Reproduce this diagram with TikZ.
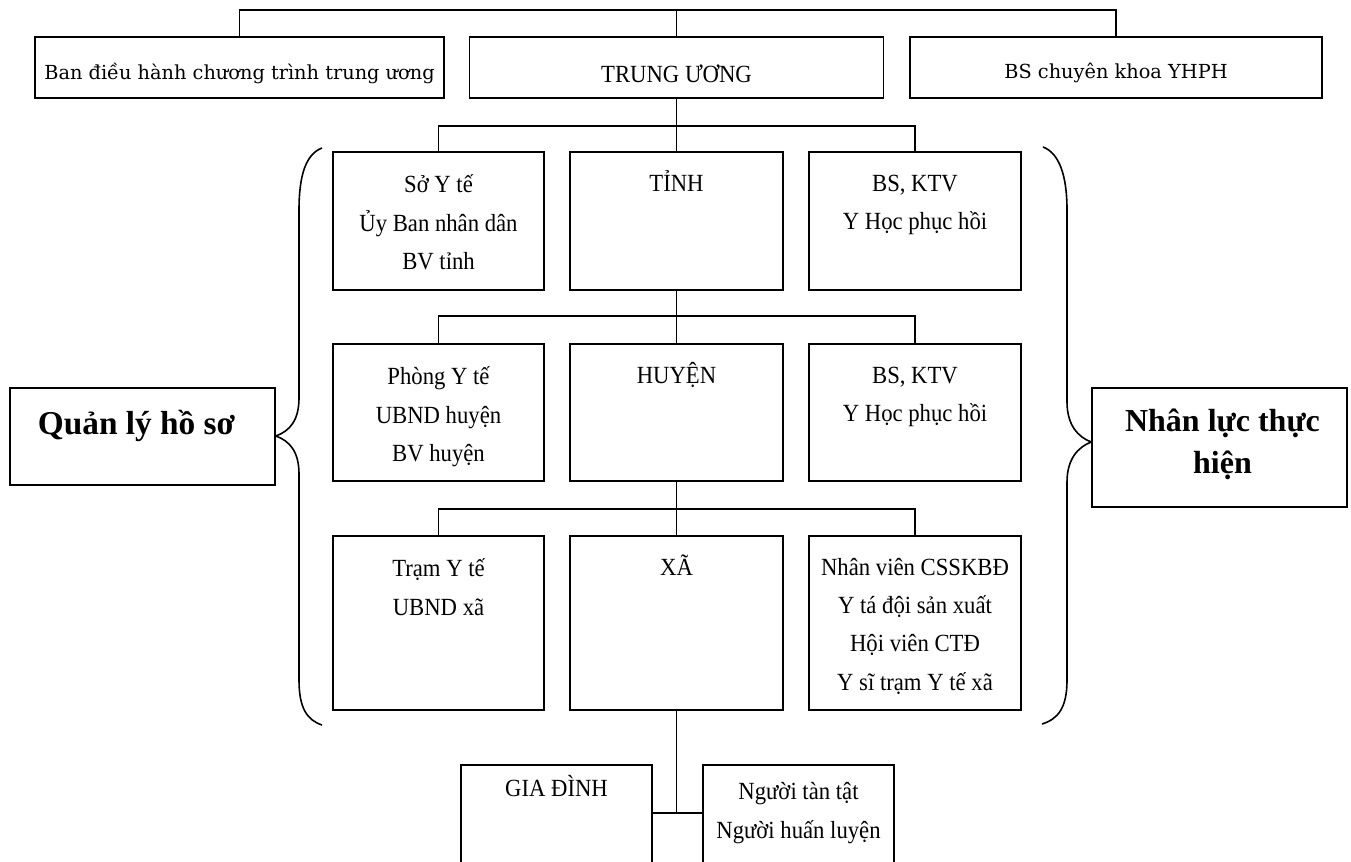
\documentclass[tikz,border=0pt]{standalone}
\usepackage{fontspec}
\setmainfont{Liberation Serif}
\newfontfamily\topserif{DejaVu Serif}
\newfontfamily\midserif[FakeStretch=0.92]{Liberation Serif}
\newcommand{\midsize}{\midserif\fontsize{18.5}{28.7}\selectfont}
\newcommand{\topsize}{\topserif\fontsize{14.5}{20}\selectfont}
\newcommand{\bigsize}{\bfseries\fontsize{25}{30}\selectfont}
\newcommand{\bigsizeb}{\bfseries\fontsize{24}{31.5}\selectfont}
\tikzset{
  box/.style={draw, line width=1.2pt, rectangle, inner sep=0pt},
  sz/.style 2 args={minimum width=#1*0.75pt, minimum height=#2*0.75pt},
  conn/.style={draw, line width=1.2pt},
  bracepath/.style={draw, line width=1.2pt},
  rowlab/.style={anchor=base, inner sep=0pt, yshift=-4.4pt},
  intxt/.style={anchor=north, inner sep=0pt, align=center, font=\midsize,
    execute at begin node=\strut, yshift=-10.2pt},
  ml/.style={yshift=-7.5pt},
  boldtxt/.style={anchor=north, inner sep=0pt, align=center, font=\bigsize,
    execute at begin node=\strut}
}
\begin{document}
\begin{tikzpicture}[x=0.75pt,y=-0.75pt]
\useasboundingbox (0,0) rectangle (1351,861);
\clip (0,0) rectangle (1351,861);

% top row
\node[box, sz={409}{61}, label={[rowlab, font=\topsize]center:Ban điều hành chương trình trung ương}] (ban) at (239.5,67.5) {};
\node[box, sz={414}{61}, label={[rowlab, font=\midsize]center:TRUNG ƯƠNG}] (trung) at (676.5,67.5) {};
\node[box, sz={412}{61}, label={[rowlab, font=\topsize]center:BS chuyên khoa YHPH}] (bsck) at (1116,67.5) {};

% row 1
\node[box, sz={211}{138}, label={[intxt, ml]north:Sở Y tế\\Ủy Ban nhân dân\\BV tỉnh}] (so) at (438.5,221) {};
\node[box, sz={213}{138}, label={[intxt]north:TỈNH}] (tinh) at (676.5,221) {};
\node[box, sz={212}{138}, label={[intxt, ml]north:BS, KTV\\Y Học phục hồi}] (bsa) at (915,221) {};

% row 2
\node[box, sz={211}{137}, label={[intxt, ml]north:Phòng Y tế\\UBND huyện\\BV huyện}] (phong) at (438.5,412.5) {};
\node[box, sz={213}{137}, label={[intxt]north:HUYỆN}] (huyen) at (676.5,412.5) {};
\node[box, sz={212}{137}, label={[intxt, ml]north:BS, KTV\\Y Học phục hồi}] (bsb) at (915,412.5) {};

% row 3
\node[box, sz={211}{174}, label={[intxt, ml]north:Trạm Y tế\\UBND xã}] (tram) at (438.5,623) {};
\node[box, sz={213}{174}, label={[intxt]north:XÃ}] (xa) at (676.5,623) {};
\node[box, sz={212}{174}, label={[intxt, ml, yshift=0.75pt]north:Nhân viên CSSKBĐ\\Y tá đội sản xuất\\Hội viên CTĐ\\Y sĩ trạm Y tế xã}] (nv) at (915,623) {};

% bottom boxes (run off the page)
\node[box, sz={191}{140}, label={[intxt, yshift=6.3pt]north:GIA ĐÌNH}] (gia) at (556.5,835) {};
\node[box, sz={191}{140}, label={[intxt, ml, yshift=4.05pt]north:Người tàn tật\\Người huấn luyện}] (nguoi) at (798.5,835) {};

% side boxes
\node[box, sz={265}{97}, label={[boldtxt, yshift=-14.25pt, xshift=-4.5pt]north:Quản lý hồ sơ}] (qly) at (142.5,436.5) {};
\node[box, sz={255}{119}, label={[boldtxt, font=\bigsizeb, yshift=-16pt, xshift=2.25pt]north:Nhân lực thực\\hiện}] (nhanluc) at (1219.5,447.5) {};

% junction coordinates
\coordinate (topbar) at (676.5,10);
\coordinate (bar1) at (676.5,126);
\coordinate (bar2) at (676.5,316);
\coordinate (bar3) at (676.5,509);
\coordinate (jn) at (676.5,813);

% connectors
\draw[conn] (ban.north) |- (topbar) -| (bsck.north);
\draw[conn] (trung.north) -- (topbar);
\draw[conn] (trung.south) -- (tinh.north);
\draw[conn] (so.north) |- (bar1) -| (bsa.north);
\draw[conn] (tinh.south) -- (huyen.north);
\draw[conn] (phong.north) |- (bar2) -| (bsb.north);
\draw[conn] (huyen.south) -- (xa.north);
\draw[conn] (tram.north) |- (bar3) -| (nv.north);
\draw[conn] (xa.south) -- (jn);
\draw[conn] (gia.east |- jn) -- (nguoi.west |- jn);

% braces
\draw[bracepath] (322,148) .. controls (306,154) and (299,175) .. (299,210)
  -- (299,398) .. controls (299,420) and (290,431) .. (qly.east |- 0,436)
  .. controls (290,441) and (299,452) .. (299,474)
  -- (299,680) .. controls (299,708) and (307,720) .. (322,725);
\draw[bracepath] (1043,147) .. controls (1059,153) and (1067,175) .. (1067,210)
  -- (1067,402) .. controls (1067,425) and (1078,437) .. (nhanluc.west |- 0,442)
  .. controls (1078,447) and (1067,459) .. (1067,482)
  -- (1067,680) .. controls (1067,708) and (1058,719) .. (1042,724);
\end{tikzpicture}
\end{document}
